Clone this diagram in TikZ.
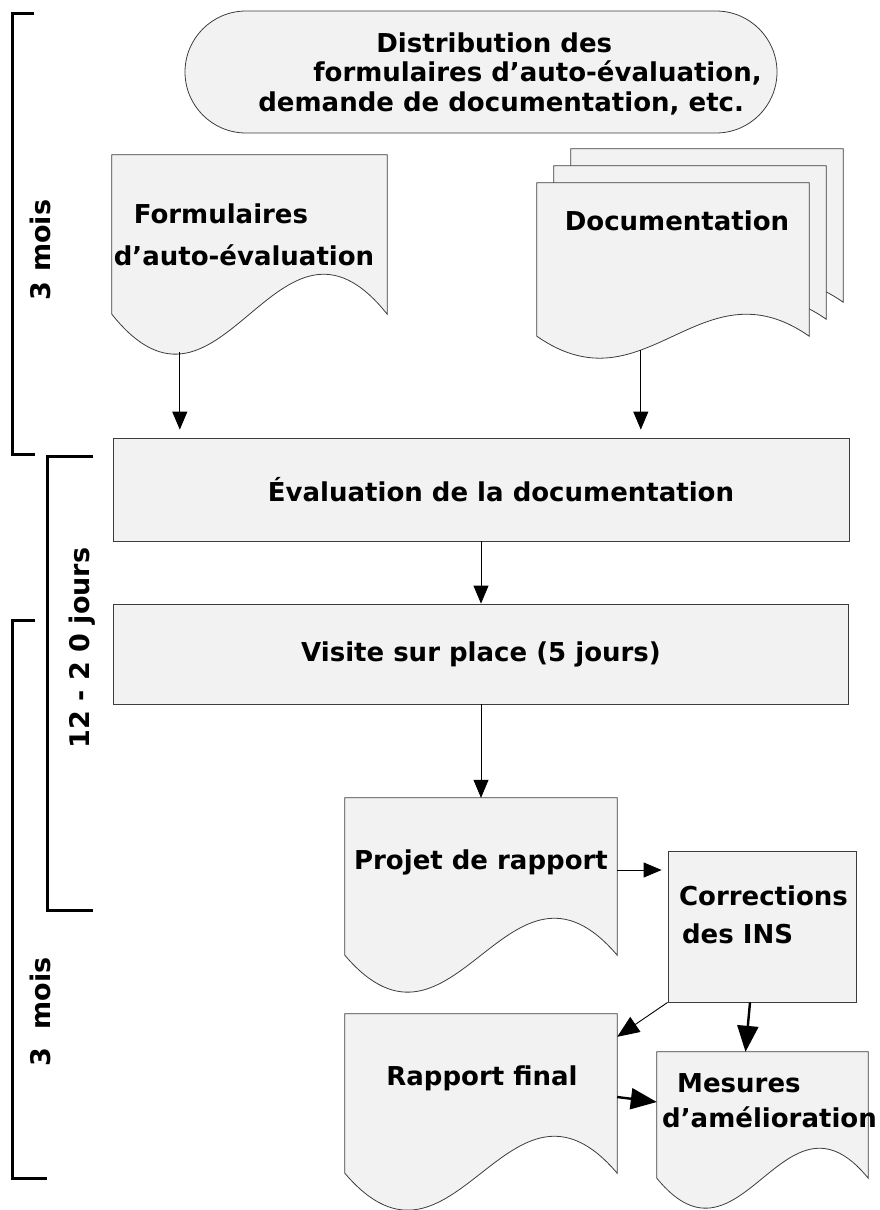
\documentclass[tikz,border=0pt]{standalone}
\usepackage{fontspec}
\setmainfont{DejaVu Sans}
\usetikzlibrary{positioning,calc,arrows.meta,backgrounds}

\definecolor{boxfill}{HTML}{F2F2F2}
\definecolor{boxline}{HTML}{3C3C3C}

\tikzset{
  proc/.style={draw=boxline, fill=boxfill, line width=0.8pt, inner sep=0pt},
  page/.style={inner sep=0pt},
  lbl/.style={font=\fontsize{26}{29.5}\selectfont\bfseries, inner sep=0pt},
  flow/.style={-{Triangle[length=18pt,width=15pt]}, line width=0.8pt},
  medflow/.style={-{Triangle[length=22pt,width=18pt]}, line width=0.9pt},
  bigflow/.style={-{Triangle[length=26pt,width=21pt]}, line width=2.4pt},
  span/.style={line width=3pt},
  spanlbl/.style={font=\fontsize{27}{30}\selectfont\bfseries, rotate=90, inner sep=0pt},
}

% sheet with a wavy foot: #1 = node, #2 = depth of the wave
\newcommand{\docpage}[2]{%
  \draw[proc] (#1.north west) -- (#1.north east) -- (#1.south east)
    .. controls ($(#1.south west)!0.6!(#1.south east)+(0,-3.46*#2)$)
    and ($(#1.south west)!0.4!(#1.south east)+(0,3.46*#2)$) .. (#1.south west)
    -- cycle;}

\begin{document}
\begin{tikzpicture}[x=1pt,y=-1pt,on grid]
\useasboundingbox (0,0) rectangle (880,1210);

% start
\node[proc, rounded corners=61pt, minimum width=592pt, minimum height=122pt] (distrib) at (481,72) {};
\node[lbl, align=left] (distribtxt) at ([xshift=29pt,yshift=-1.5pt]distrib)
  {\hspace*{118pt}Distribution des\\\hspace*{55pt}formulaires d’auto-évaluation,\\demande de documentation, etc.};

% returned material
\node[page, minimum width=275pt, minimum height=159pt] (form) at (249.5,234.5) {};
\node[page, minimum width=272pt, minimum height=153pt] (docs) at (673,259.5) {};
\node[page, minimum width=272pt, minimum height=153pt] (docsb) [above right=17pt and 17pt of docs] {};
\node[page, minimum width=272pt, minimum height=153pt] (docsc) [above right=17pt and 17pt of docsb] {};
\node[lbl, align=left] (formtxt) at ([xshift=-5.5pt]form) {\hspace*{20pt}Formulaires\\[12.5pt]d’auto-évaluation};
\node[lbl, anchor=base] (docstxt) at ([xshift=4pt,yshift=29.5pt]docs) {Documentation};

% main column
\node[proc, lbl, minimum width=736pt, minimum height=103pt] (eval) at (481,489.5) {\hspace*{40pt}Évaluation de la documentation};
\node[proc, lbl, minimum width=735pt, minimum height=100pt] (visite) [below=164.5pt of eval] {Visite sur place (5 jours)};
\node[page, minimum width=272pt, minimum height=157pt] (projet) [below=222.5pt of visite] {};
\node[page, minimum width=272pt, minimum height=159pt] (rapport) [below=217pt of projet] {};
\node[proc, minimum width=188pt, minimum height=151pt] (corr) [above right=167pt and 281pt of rapport] {};
\node[page, minimum width=211pt, minimum height=126pt] (mesures) [below right=21.5pt and 281.5pt of rapport] {};

\node[lbl, anchor=base] (projettxt) at ([yshift=7.5pt]projet) {Projet de rapport};
\node[lbl, anchor=base] (rapporttxt) at ([xshift=1pt,yshift=8.5pt]rapport) {Rapport final};
\node[lbl, align=left] (corrtxt) at ([xshift=1.5pt,yshift=11.5pt]corr) {Corrections\\[8.5pt]\hspace*{3pt}des INS};
\node[lbl, align=left] (mesurestxt) at ([xshift=7pt,yshift=14.5pt]mesures) {\hspace*{15pt}Mesures\\[5.5pt]d’amélioration};

\begin{scope}[on background layer]
  \docpage{form}{40}
  \docpage{docsc}{22}
  \docpage{docsb}{22}
  \docpage{docs}{22}
  \docpage{projet}{37}
  \docpage{rapport}{37}
  \docpage{mesures}{30}
\end{scope}

% arrows
\coordinate (formfoot) at ([xshift=68pt,yshift=-38pt]form.south west);
\coordinate (docsfoot) at ([xshift=104pt,yshift=-14pt]docs.south west);
\coordinate (projetout) at ([yshift=6.5pt]projet.east);
\draw[flow, shorten >=8pt] (formfoot) -- (formfoot |- eval.north);
\draw[flow, shorten >=8pt] (docsfoot) -- (docsfoot |- eval.north);
\draw[flow] (eval) -- (visite);
\draw[flow] (visite) -- (projet);
\draw[flow, shorten >=6pt] (projetout) -- (projetout -| corr.west);
\draw[medflow] (corr.south west) -- ([yshift=-23pt]rapport.north east);
\draw[bigflow] ([xshift=-12pt]corr.south) -- ([xshift=-17pt]mesures.north);
\draw[bigflow] ([yshift=-3.5pt]rapport.east) -- ([yshift=13pt]mesures.west);

% time spans
\draw[span] (34,13) -- (12,13) -- (12,454) -- (35,454);
\draw[span] (93,456) -- (47,456) -- (47,910) -- (93,910);
\draw[span] (35,620) -- (12,620) -- (12,1178) -- (47,1178);
\node[spanlbl] (moisa) at (40,250) {3 mois};
\node[spanlbl] (jours) at (82,648) {12 - 2 0 jours};
\node[spanlbl] (moisb) at (40,1012) {3\ \ mois};
\end{tikzpicture}
\end{document}
